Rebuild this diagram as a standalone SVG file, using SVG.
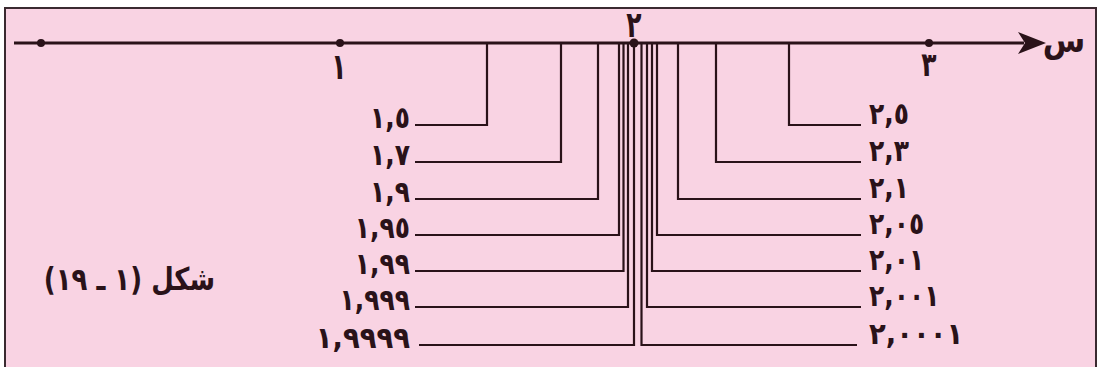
<svg xmlns="http://www.w3.org/2000/svg" width="1100" height="367" viewBox="0 0 1100 367">
<style>
.ln{stroke:#2a1219;stroke-width:2.2;fill:none}
.ax{stroke:#2a1219;stroke-width:3;fill:none}
.dot{fill:#2a1219}
.t{font-family:"DejaVu Sans",sans-serif;font-weight:bold;font-size:25px;fill:#2a1219}
.tl{text-anchor:end}
.tr{text-anchor:start}
.tm{text-anchor:middle}
</style>
<rect x="0" y="0" width="1100" height="367" fill="#ffffff"/>
<rect x="5" y="8" width="1091" height="370" fill="#f9d3e3" stroke="#3a2a30" stroke-width="2"/>
<g id="axis">
<line class="ax" x1="14" y1="43" x2="1024" y2="43"/>
<path class="dot" d="M1018,32 L1046,43 L1018,54 L1025,43 Z"/>
<circle class="dot" cx="41" cy="43" r="4"/>
<circle class="dot" cx="340" cy="43" r="4"/>
<circle class="dot" cx="634" cy="43" r="4.5"/>
<circle class="dot" cx="929" cy="43" r="4"/>
<text class="t tm" transform="translate(339,79) scale(1,1.45)">١</text>
<text class="t tm" transform="translate(634,37) scale(1,1.45)">٢</text>
<text class="t tm" transform="translate(929,76) scale(1,1.35)">٣</text>
<text class="t tm" transform="translate(1064,52) scale(1.1,1.2)" style="font-size:28px">س</text>
</g>
<g id="connectors">
<polyline class="ln" points="487,43 487,125 415,125"/>
<polyline class="ln" points="561,43 561,162 415,162"/>
<polyline class="ln" points="598,43 598,199 415,199"/>
<polyline class="ln" points="619,43 619,235 415,235"/>
<polyline class="ln" points="623.5,43 623.5,271 415,271"/>
<polyline class="ln" points="628,43 628,307 415,307"/>
<polyline class="ln" points="634,43 634,345 419,345"/>
<polyline class="ln" points="789,43 789,125 861,125"/>
<polyline class="ln" points="716,43 716,162 861,162"/>
<polyline class="ln" points="678,43 678,199 861,199"/>
<polyline class="ln" points="657,43 657,235 861,235"/>
<polyline class="ln" points="652,43 652,271 861,271"/>
<polyline class="ln" points="647,43 647,307 861,307"/>
<polyline class="ln" points="641.5,43 641.5,345 857,345"/>
</g>
<g id="left-labels">
<text class="t tl" transform="translate(410,128) scale(1,1.2)">١,٥</text>
<text class="t tl" transform="translate(410,165) scale(1,1.2)">١,٧</text>
<text class="t tl" transform="translate(410,202) scale(1,1.2)">١,٩</text>
<text class="t tl" transform="translate(410,238) scale(1,1.2)">١,٩٥</text>
<text class="t tl" transform="translate(410,274) scale(1,1.2)">١,٩٩</text>
<text class="t tl" transform="translate(410,310) scale(1,1.2)">١,٩٩٩</text>
<text class="t tl" transform="translate(410,348) scale(1.1,1.2)">١,٩٩٩٩</text>
</g>
<g id="right-labels">
<text class="t tr" transform="translate(869,124) scale(1,1.2)">٢,٥</text>
<text class="t tr" transform="translate(869,161) scale(1,1.2)">٢,٣</text>
<text class="t tr" transform="translate(869,198) scale(1,1.2)">٢,١</text>
<text class="t tr" transform="translate(869,234) scale(1,1.2)">٢,٠٥</text>
<text class="t tr" transform="translate(869,270) scale(1,1.2)">٢,٠١</text>
<text class="t tr" transform="translate(869,306) scale(1,1.2)">٢,٠٠١</text>
<text class="t tr" transform="translate(869,344) scale(1.1,1.2)">٢,٠٠٠١</text>
</g>
<g id="caption">
<text class="t" transform="translate(215,290) scale(1,1.2)" direction="rtl" text-anchor="start" style="font-size:26px">شكل (١ ـ ١٩)</text>
</g>
</svg>
